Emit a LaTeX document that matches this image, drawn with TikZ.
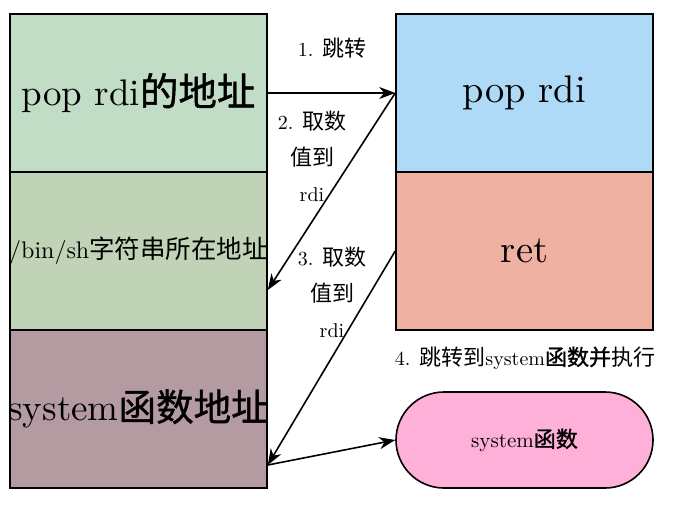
\documentclass[tikz,border=0pt]{standalone}
\usepackage{fontspec}
\setmainfont{lmroman10-regular}[Extension=.otf]
\newfontfamily\cjk{Noto Sans CJK SC}
\newfontfamily\cjkb{Noto Sans CJK SC}[FakeBold=1.2]
\usetikzlibrary{arrows.meta,calc}
\definecolor{cgreenA}{RGB}{193,221,198}
\definecolor{cgreenB}{RGB}{192,211,183}
\definecolor{cmauve}{RGB}{180,155,162}
\definecolor{cblue}{RGB}{174,218,248}
\definecolor{csalmon}{RGB}{238,177,162}
\definecolor{cpink}{RGB}{254,176,216}
\begin{document}
\begin{tikzpicture}[x=1pt,y=-1pt,
  box/.style={draw,line width=1.6pt,minimum width=257pt,minimum height=158pt,inner sep=0pt},
  big/.style={font=\fontsize{37}{40}\selectfont},
  arr/.style={line width=1.6pt,-{Stealth[length=16pt,width=12pt,inset=5pt]}},
  lbl/.style={font=\fontsize{20}{36}\selectfont,align=center,inner sep=0pt}]
\useasboundingbox (0,0) rectangle (676,507);
\node[box,fill=cgreenA,big] (a) at (138.5,93) {\makebox[0pt]{pop rdi{\fontsize{38.5}{40}\cjkb 的地址}}};
\node[box,fill=cgreenB,font=\fontsize{24}{30}\selectfont] (m) at (138.5,251) {\makebox[0pt]{/bin/sh{\fontsize{25.5}{30}\cjk 字符串所在地址}}};
\node[box,fill=cmauve,big] (s) at (138.5,409) {\makebox[0pt]{system{\fontsize{37.5}{40}\cjkb 函数地址}}};
\node[box,fill=cblue,font=\fontsize{38.5}{40}\selectfont] (p) at (524.5,93) {pop rdi};
\node[box,fill=csalmon,font=\fontsize{38.5}{40}\selectfont] (r) at (524.5,251) {ret};
\node[draw,line width=1.6pt,fill=cpink,minimum width=257pt,minimum height=96pt,rounded corners=48pt,inner sep=0pt,font=\fontsize{21}{24}\selectfont] (f) at (524.5,440) {system{\fontsize{22}{24}\cjkb 函数}};
\coordinate (t2) at ($(m.east)+(0,39)$);
\coordinate (t3) at ($(s.east)+(0,56)$);
\draw[arr] (a.east) -- (p.west);
\draw[arr] (p.west) -- (t2);
\draw[arr] (r.west) -- (t3);
\draw[arr] (t3) -- (f.west);
\node[lbl] (l1) at (332,48) {1. {\fontsize{22}{36}\cjk 跳转}};
\node[lbl] (l2) at (312,156) {2. {\fontsize{22}{36}\cjk 取数}\\{\fontsize{22}{36}\cjk 值到}\\rdi};
\node[lbl] (l3) at (332,292) {3. {\fontsize{22}{36}\cjk 取数}\\{\fontsize{22}{36}\cjk 值到}\\rdi};
\node[lbl] (l4) at (525,358) {4. {\fontsize{22}{24}\cjk 跳转到}system{\fontsize{22}{24}\cjkb 函数并}{\fontsize{22}{24}\cjk 执行}};
\end{tikzpicture}
\end{document}
